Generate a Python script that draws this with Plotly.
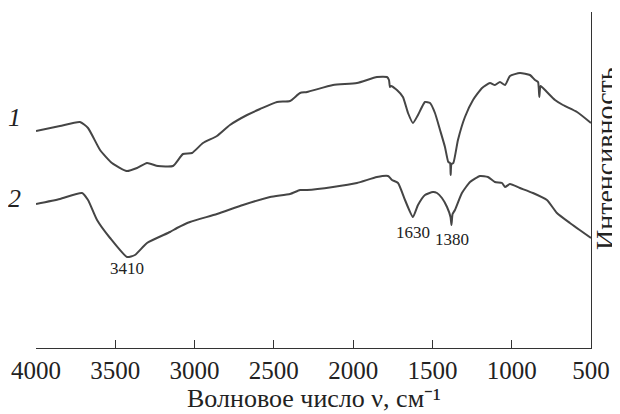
import plotly.graph_objects as go

# Wavenumber (cm^-1) and intensity (a.u.)
wn1 = [4000, 3849, 3723, 3672, 3596, 3521, 3428, 3363, 3300, 3231, 3136, 3073, 3016,
       2947, 2859, 2777, 2669, 2587, 2480, 2398, 2335, 2291, 2127, 1976, 1850, 1787,
       1774, 1768, 1761, 1724, 1686, 1654, 1623, 1591, 1547, 1515, 1484, 1452, 1421,
       1400, 1389, 1385, 1380, 1368, 1339, 1295, 1244, 1187, 1137, 1106, 1074, 1042,
       1011, 948, 885, 853, 834, 826, 818, 778, 727, 677, 588, 500]
int1 = [217, 222, 226, 220, 198, 185, 177, 180, 185, 182, 182, 194, 195,
        205, 212, 223, 233, 239, 246, 247, 255, 256, 263, 265, 271, 271,
        268, 261, 262, 258, 251, 235, 225, 233, 246, 245, 235, 218, 201,
        186, 185, 173, 184, 185, 208, 231, 248, 260, 265, 263, 266, 263,
        272, 275, 273, 268, 266, 251, 262, 256, 248, 243, 236, 225]

wn2 = [4000, 3849, 3710, 3672, 3615, 3533, 3426, 3376, 3300, 3155, 3111, 3029, 2859,
       2695, 2524, 2398, 2335, 2291, 2127, 1976, 1850, 1780, 1755, 1717, 1673, 1623,
       1591, 1547, 1497, 1471, 1440, 1408, 1386, 1380, 1373, 1358, 1314, 1263, 1200,
       1150, 1106, 1061, 1042, 1011, 948, 866, 778, 715, 633, 500]
int2 = [144, 149, 155, 148, 128, 110, 91, 93, 105, 116, 120, 126, 134,
        143, 151, 154, 158, 158, 161, 165, 171, 172, 168, 165, 148, 131,
        143, 153, 156, 155, 150, 141, 131, 123, 134, 138, 155, 166, 172,
        171, 166, 165, 161, 164, 160, 155, 148, 135, 125, 110]

tick_vals = [4000, 3500, 3000, 2500, 2000, 1500, 1000, 500]
peak_labels = ["3410", "1630", "1380"]
peak_x = [3426, 1623, 1379]
peak_y = [80, 116, 109]
curve_labels = ["1", "2"]
curve_label_y = [231, 150]

FONT = "Liberation Serif"
LINE = "#454545"

fig = go.Figure()
fig.add_trace(go.Scatter(x=wn1, y=int1, mode="lines",
                         line=dict(color=LINE, width=2, shape="spline", smoothing=0.5),
                         showlegend=False))
fig.add_trace(go.Scatter(x=wn2, y=int2, mode="lines",
                         line=dict(color=LINE, width=2, shape="spline", smoothing=0.5),
                         showlegend=False))

for t, x, y in zip(peak_labels, peak_x, peak_y):
    fig.add_annotation(x=x, y=y, xref="x", yref="y", text=t, showarrow=False,
                       xanchor="center", yanchor="middle",
                       font=dict(family=FONT, size=17, color="#222"))
for t, y in zip(curve_labels, curve_label_y):
    fig.add_annotation(x=-0.038, y=y, xref="paper", yref="y", text="<i>" + t + "</i>",
                       showarrow=False, xanchor="center", yanchor="middle",
                       font=dict(family=FONT, size=26, color="#222"))

# axis titles as annotations for exact placement
fig.add_annotation(x=1.025, y=0.565, xref="paper", yref="paper", text="Интенсивность",
                   textangle=-90, showarrow=False, xanchor="center", yanchor="middle",
                   font=dict(family=FONT, size=28, color="#222"))
fig.add_annotation(x=0.5, y=-0.15, xref="paper", yref="paper",
                   text="Волновое число ν, см⁻¹",
                   showarrow=False, xanchor="center", yanchor="middle",
                   font=dict(family=FONT, size=26, color="#222"))

# page has an 8px body margin, so the figure is offset by (8, 8)
fig.update_layout(
    width=612, height=406,
    margin=dict(l=28, r=29, t=4, b=66, autoexpand=False),
    paper_bgcolor="white", plot_bgcolor="white",
    font=dict(family=FONT, color="#222"),
)
fig.update_xaxes(
    range=[4000, 500], tickvals=tick_vals, ticktext=[str(v) for v in tick_vals],
    ticks="inside", ticklen=8, tickwidth=1.3, tickcolor="#333",
    showline=True, linecolor="#333", linewidth=1.3, mirror=False,
    showgrid=False, zeroline=False, automargin=False,
    tickfont=dict(family=FONT, size=25, color="#222"),
)
fig.update_yaxes(
    range=[0, 336], side="right", showticklabels=False, ticks="",
    showline=True, linecolor="#333", linewidth=1.3,
    showgrid=False, zeroline=False, automargin=False,
)

fig.write_html("out.html")
